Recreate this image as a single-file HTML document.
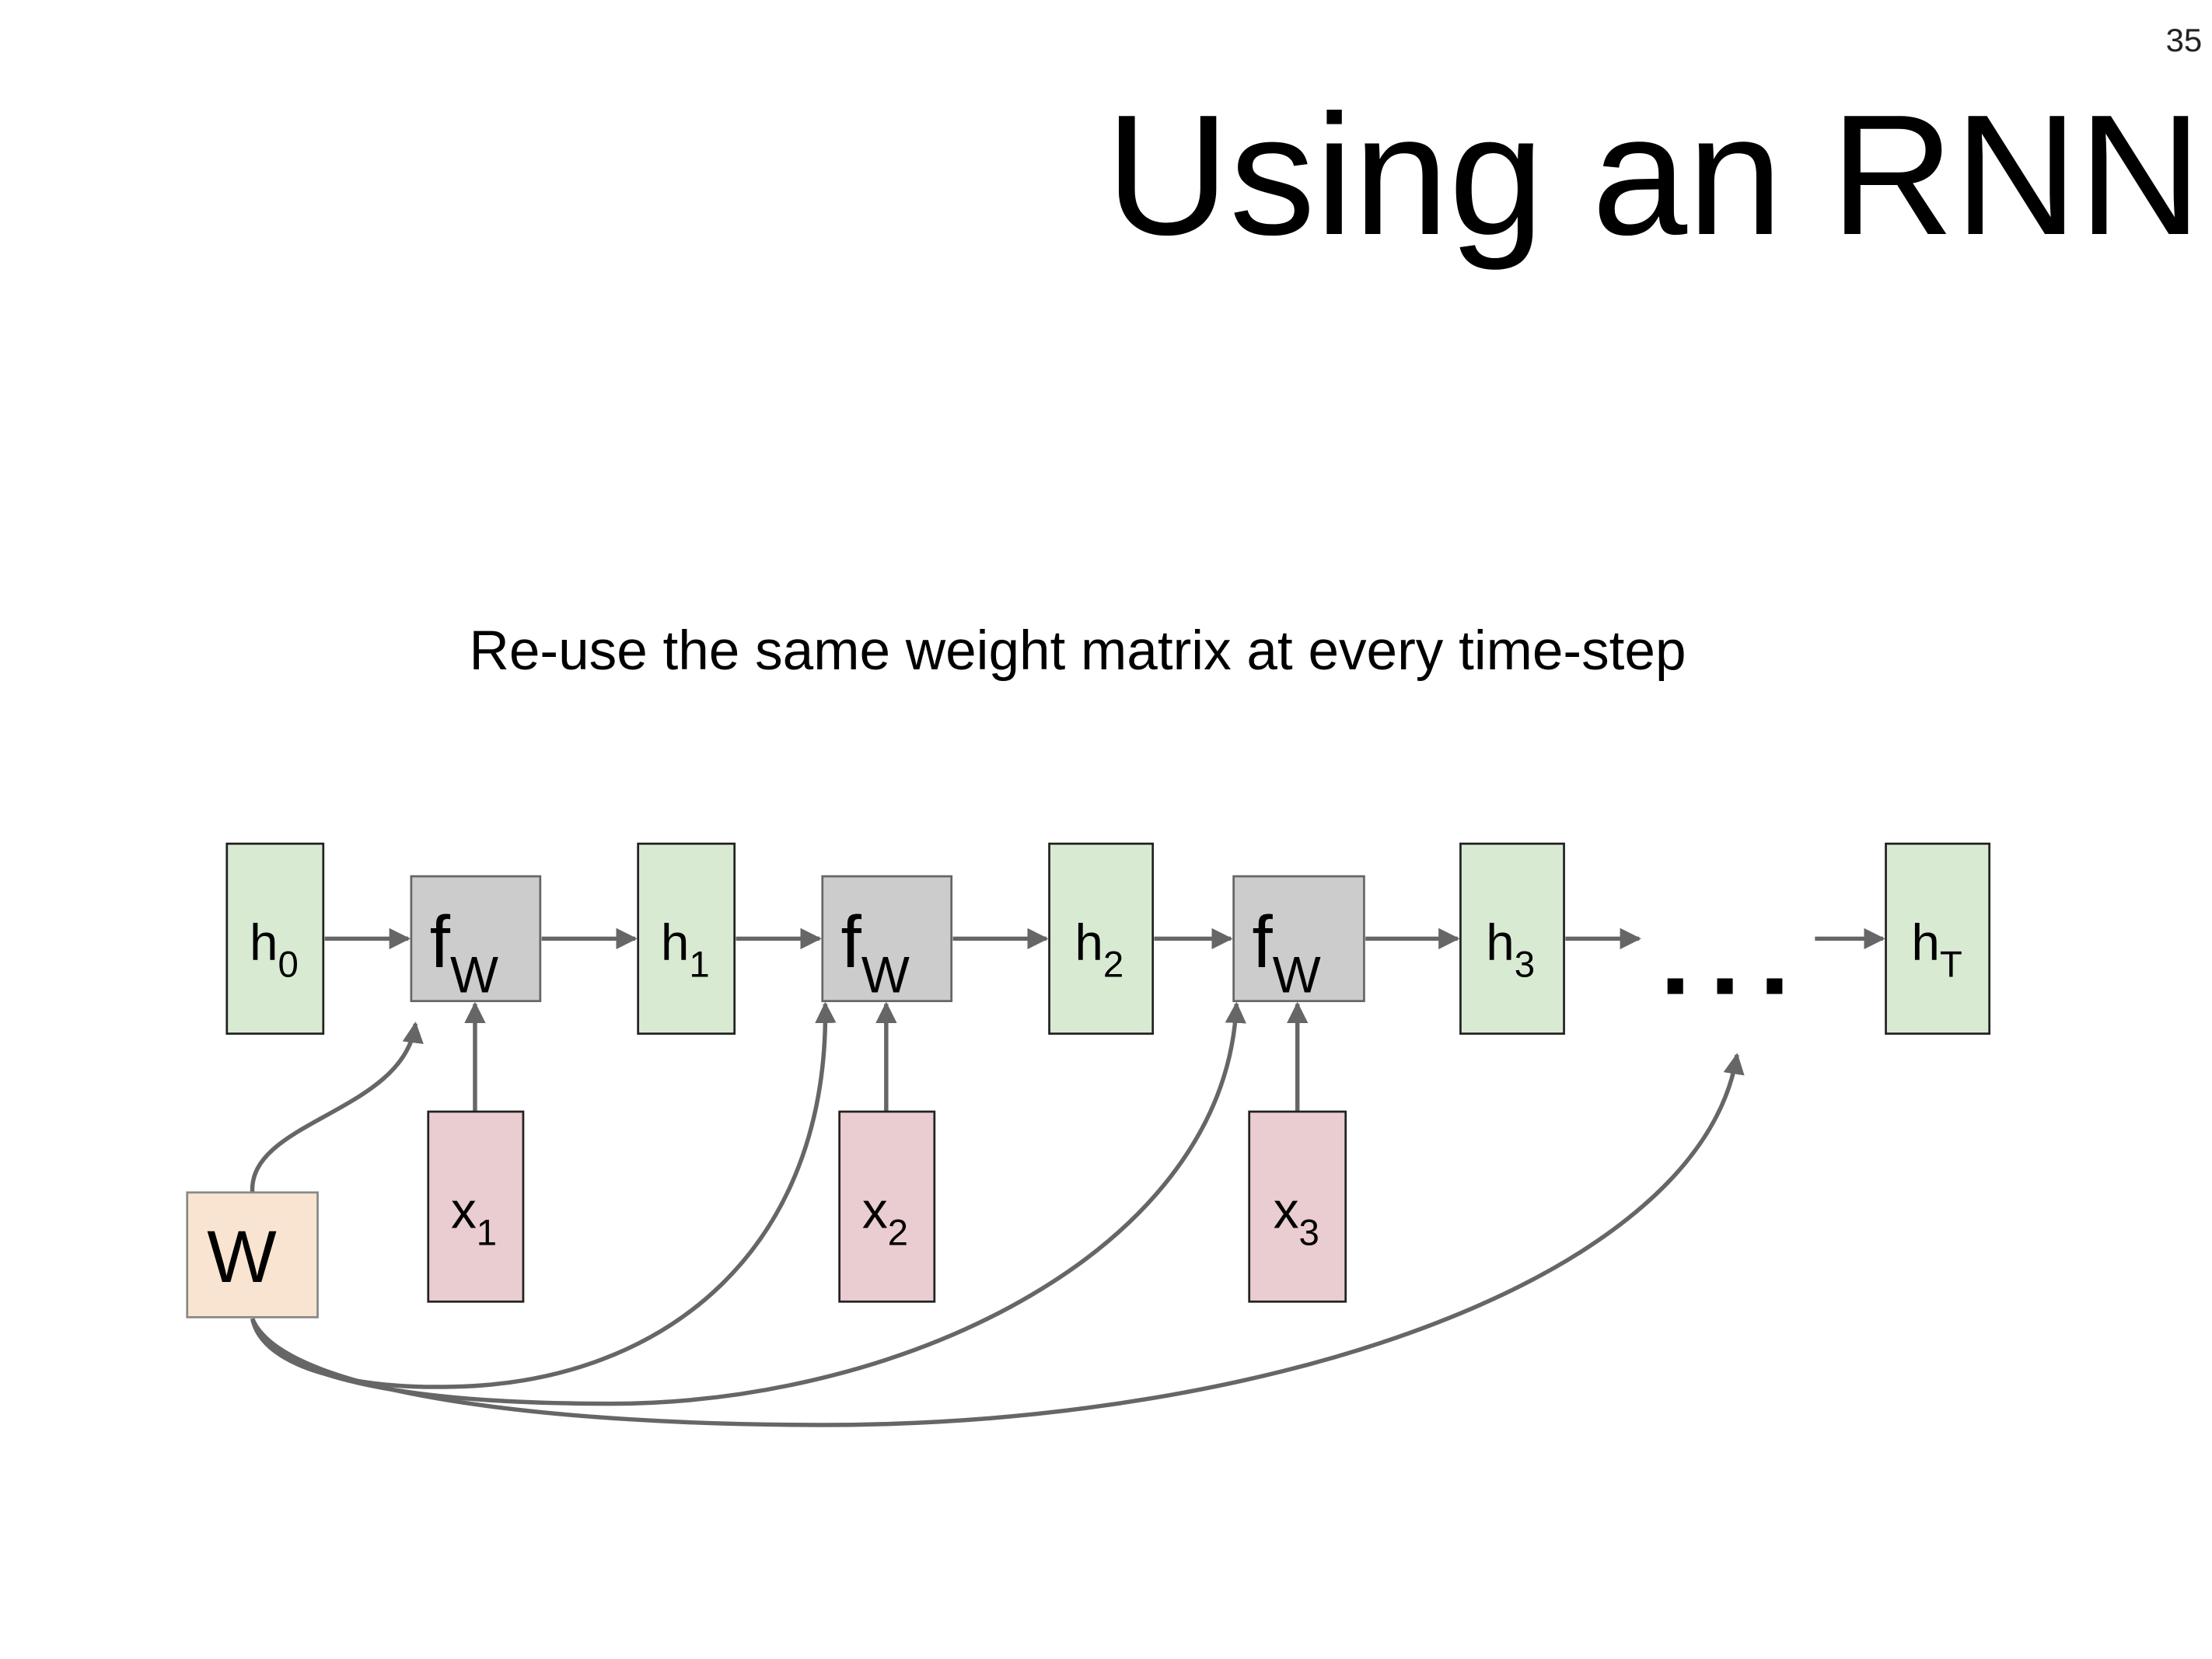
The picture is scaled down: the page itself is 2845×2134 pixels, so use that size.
<!DOCTYPE html>
<html><head><meta charset="utf-8"><style>html,body{margin:0;padding:0;background:#fff}svg{display:block}</style></head>
<body>
<svg width="2845" height="2134" viewBox="0 0 1560 1170" xmlns="http://www.w3.org/2000/svg" font-family="Liberation Sans, Arial, sans-serif">
<defs>
<marker id="a" viewBox="0 0 10 10" refX="9" refY="5" markerWidth="5" markerHeight="5" orient="auto"><path d="M0,0 L10,5 L0,10 z" fill="#666"/></marker>
</defs>
<text x="1553" y="36" font-size="23" text-anchor="end" fill="#222">35</text>
<text x="1553" y="165" font-size="121" text-anchor="end" fill="#000">Using an RNN</text>
<text x="760" y="472" font-size="39" text-anchor="middle" fill="#000">Re-use the same weight matrix at every time-step</text>

<g stroke="#666" stroke-width="3" fill="none" marker-end="url(#a)">
<line x1="229" y1="662" x2="288" y2="662"/>
<line x1="382" y1="662" x2="448" y2="662"/>
<line x1="519" y1="662" x2="578" y2="662"/>
<line x1="672" y1="662" x2="738" y2="662"/>
<line x1="814" y1="662" x2="868" y2="662"/>
<line x1="963" y1="662" x2="1028" y2="662"/>
<line x1="1104" y1="662" x2="1156" y2="662"/>
<line x1="1280" y1="662" x2="1328" y2="662"/>
<line x1="335" y1="784" x2="335" y2="708"/>
<line x1="625" y1="784" x2="625" y2="708"/>
<line x1="915" y1="784" x2="915" y2="708"/>
<path d="M178,841 C175,790 285,785 293,722"/>
<path d="M178,930 C185,965 250,980 320,978 C470,975 585,880 582,708"/>
<path d="M178,930 C190,975 300,990 430,990 C640,990 865,880 872,708"/>
<path d="M178,930 C200,985 400,1005 580,1005 C900,1005 1200,900 1225,744"/>
</g>

<g stroke="#222" stroke-width="1.5">
<rect x="160" y="595" width="68" height="134" fill="#d9ead3"/>
<rect x="450" y="595" width="68" height="134" fill="#d9ead3"/>
<rect x="740" y="595" width="73" height="134" fill="#d9ead3"/>
<rect x="1030" y="595" width="73" height="134" fill="#d9ead3"/>
<rect x="1330" y="595" width="73" height="134" fill="#d9ead3"/>
<rect x="302" y="784" width="67" height="134" fill="#eacdd0"/>
<rect x="592" y="784" width="67" height="134" fill="#eacdd0"/>
<rect x="881" y="784" width="68" height="134" fill="#eacdd0"/>
</g>
<g stroke="#666" stroke-width="1.5" fill="#cccccc">
<rect x="290" y="618" width="91" height="88"/>
<rect x="580" y="618" width="91" height="88"/>
<rect x="870" y="618" width="92" height="88"/>
</g>
<rect x="132" y="841" width="92" height="88" fill="#f8e4d0" stroke="#888" stroke-width="1.5"/>

<g font-size="36" fill="#000">
<text x="176" y="677">h<tspan font-size="26" dy="12">0</tspan></text>
<text x="466" y="677">h<tspan font-size="26" dy="12">1</tspan></text>
<text x="758" y="677">h<tspan font-size="26" dy="12">2</tspan></text>
<text x="1048" y="677">h<tspan font-size="26" dy="12">3</tspan></text>
<text x="1348" y="677">h<tspan font-size="26" dy="12">T</tspan></text>
<text x="318" y="866">x<tspan font-size="26" dy="12">1</tspan></text>
<text x="608" y="866">x<tspan font-size="26" dy="12">2</tspan></text>
<text x="898" y="866">x<tspan font-size="26" dy="12">3</tspan></text>
<text x="303" y="682" font-size="52">f<tspan font-size="36" dy="18">W</tspan></text>
<text x="593" y="682" font-size="52">f<tspan font-size="36" dy="18">W</tspan></text>
<text x="883" y="682" font-size="52">f<tspan font-size="36" dy="18">W</tspan></text>
<text x="146" y="904" font-size="52">W</text>
</g>
<g fill="#000">
<rect x="1176" y="690" width="11" height="11"/>
<rect x="1211" y="690" width="11" height="11"/>
<rect x="1246" y="690" width="11" height="11"/>
</g>
</svg>
</body></html>
